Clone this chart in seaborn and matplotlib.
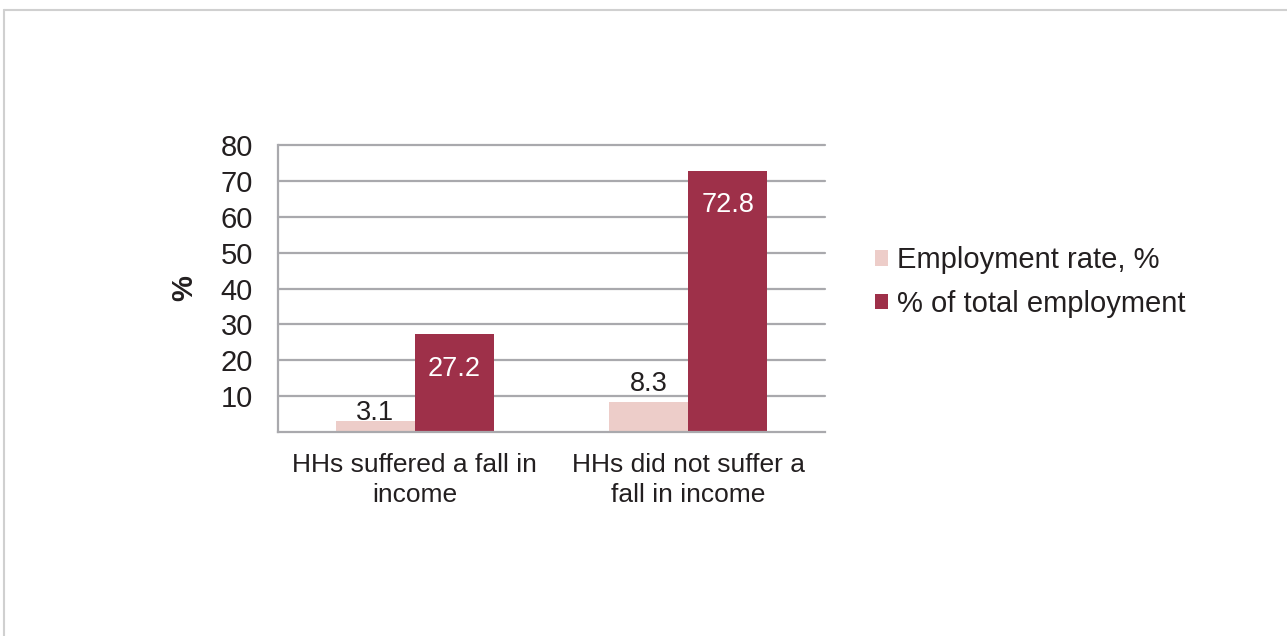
import pandas as pd
import matplotlib.pyplot as plt
import seaborn as sns
from matplotlib.lines import Line2D
from matplotlib.patches import Patch

categories = ['HHs suffered a fall in\nincome', 'HHs did not suffer a\nfall in income']
series = ['Employment rate, %', '% of total employment']
employment_rate = [3.1, 8.3]
share_of_employment = [27.2, 72.8]
y_ticks = [10, 20, 30, 40, 50, 60, 70, 80]

LIGHT = '#EDCDC9'
DARK = '#9E3049'
GRID = '#A9A9AD'
TEXT = '#231F20'
FS = 21

df = pd.DataFrame({
    'category': categories * 2,
    'series': [series[0]] * 2 + [series[1]] * 2,
    'value': employment_rate + share_of_employment,
})

sns.set_style('white')
plt.rcParams['font.family'] = ['Liberation Sans', 'DejaVu Sans']
plt.rcParams['text.color'] = TEXT

fig = plt.figure(figsize=(12.87, 6.36), dpi=100)
ax = fig.add_axes([278 / 1287, 1 - 432 / 636, 547 / 1287, 287 / 636])

sns.barplot(data=df, x='category', y='value', hue='series', hue_order=series,
            palette=[LIGHT, DARK], saturation=1, width=0.578, linewidth=0,
            ax=ax, legend=False)

ax.set_xlim(-0.5, 1.5)
ax.set_ylim(0, 80)
ax.set_yticks(y_ticks)
ax.tick_params(axis='both', length=0, colors=TEXT)
ax.tick_params(axis='y', pad=18, labelsize=FS)
ax.tick_params(axis='x', pad=15, labelsize=19)
for lbl in ax.get_xticklabels():
    lbl.set_linespacing(1.3)
ax.yaxis.grid(True, color=GRID, linewidth=1.6)
for gl in ax.get_ygridlines():
    gl.set_clip_on(False)
ax.set_axisbelow(True)
for s in ['top', 'right']:
    ax.spines[s].set_visible(False)
for s in ['left', 'bottom']:
    ax.spines[s].set_color(GRID)
    ax.spines[s].set_linewidth(1.6)

ax.set_xlabel('')
ax.set_ylabel('%', fontsize=FS, fontweight='bold', labelpad=16, color=TEXT)

light_bars, dark_bars = ax.containers[0], ax.containers[1]
# Excel puts the small labels at slightly different heights
ax.bar_label(light_bars, labels=[f'{employment_rate[0]:.1f}', ''],
             padding=-4, fontsize=19.5, color=TEXT)
ax.bar_label(light_bars, labels=['', f'{employment_rate[1]:.1f}'],
             padding=3.5, fontsize=19.5, color=TEXT)
ax.bar_label(dark_bars, labels=[f'{v:.1f}' for v in share_of_employment],
             padding=-34, fontsize=19.5, color='white')

handles = [Patch(facecolor=LIGHT, edgecolor='none'), Patch(facecolor=DARK, edgecolor='none')]
fig.legend(handles, series, loc='center left', bbox_to_anchor=(863 / 1287, 1 - 282 / 636),
           frameon=False, fontsize=FS, handlelength=0.45, handleheight=0.45,
           handletextpad=0.31, labelspacing=0.54, borderaxespad=0)

# thin grey frame around the chart area
fig.add_artist(Line2D([3.5 / 1287, 1], [1 - 10 / 636] * 2, color='#D0D0D0', linewidth=1.5))
fig.add_artist(Line2D([3.5 / 1287] * 2, [0, 1 - 10 / 636], color='#D0D0D0', linewidth=1.5))

plt.savefig('out.png', dpi=100)
